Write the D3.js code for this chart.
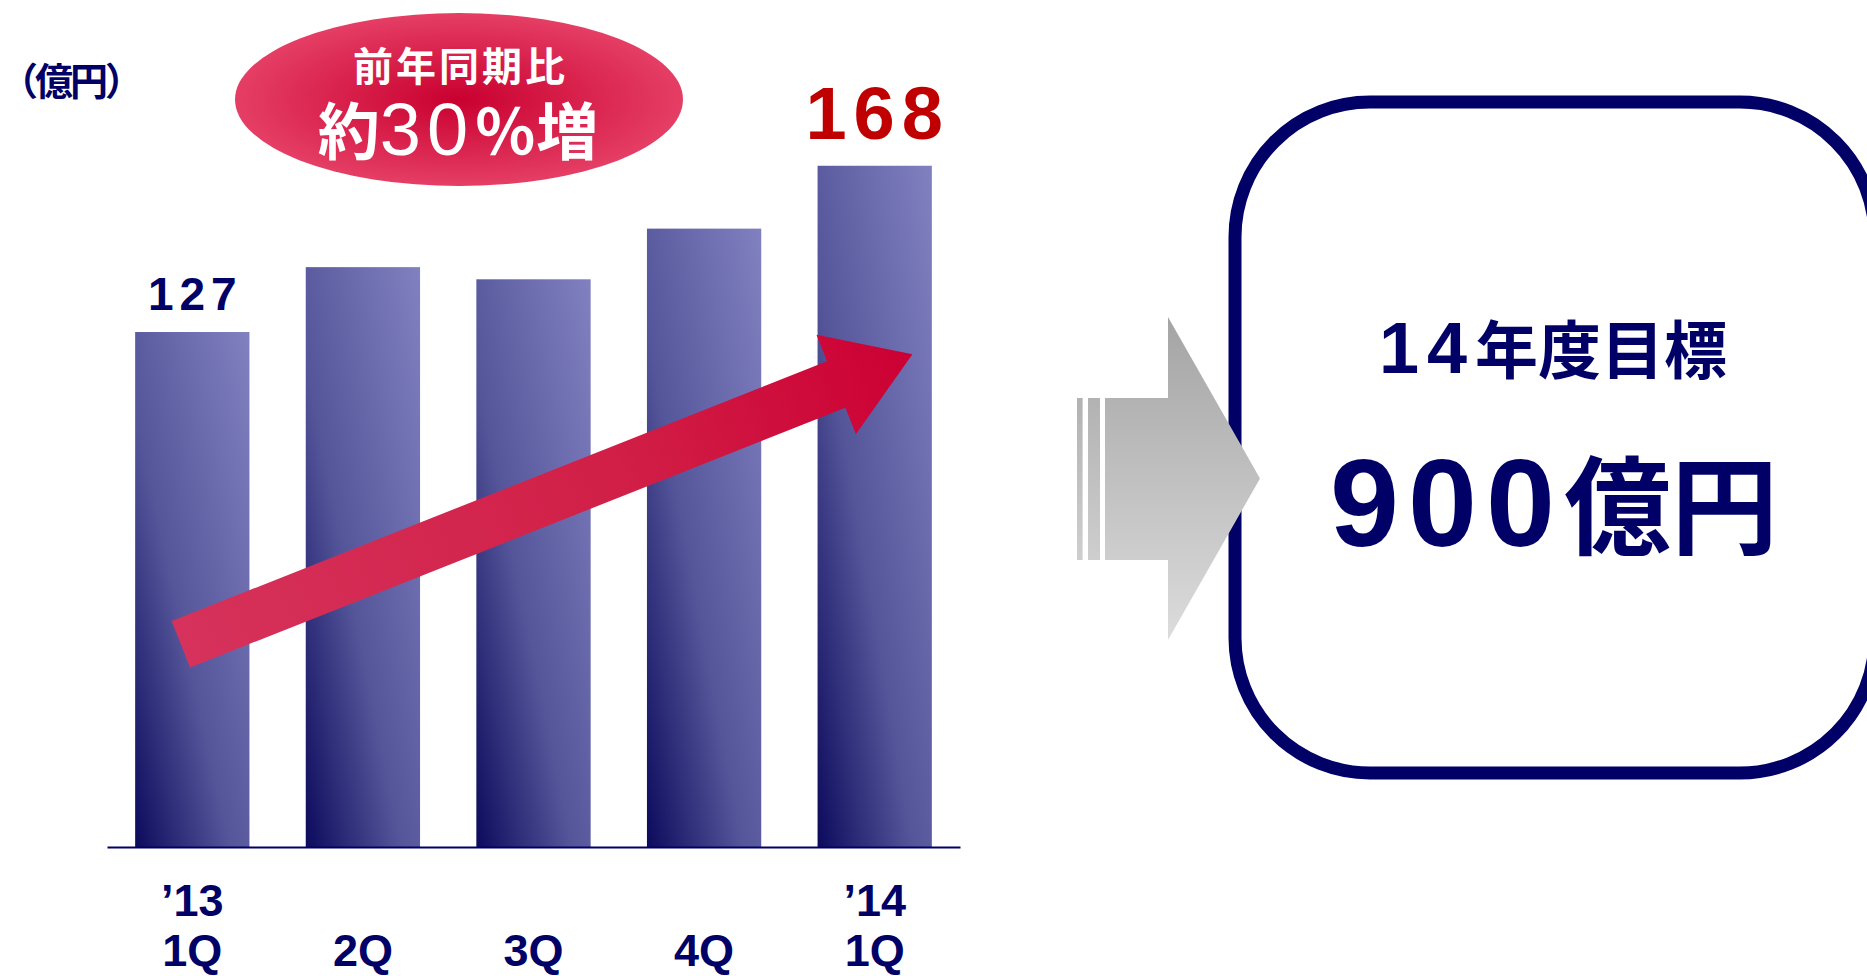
<!DOCTYPE html>
<html>
<head>
<meta charset="utf-8">
<script src="https://cdn.jsdelivr.net/npm/d3@7"></script>
<style>
  html, body { margin: 0; padding: 0; background: #ffffff; overflow: hidden; }
  svg { display: block; }
</style>
</head>
<body>
<svg id="chart" width="1867" height="976"></svg>
<script>
// Quarterly sales (億円), '13 1Q – '14 1Q
const periodKeys   = ["13Q1", "13Q2", "13Q3", "13Q4", "14Q1"];
const quarterTicks = ["1Q", "2Q", "3Q", "4Q", "1Q"];
const yearTicks    = ["’13", "", "", "", "’14"];
const sales        = [127, 143, 140, 152.5, 168];
const valueLabels  = ["127", "", "", "", "168"];

const unitText    = "（億円）";
const badgeTitle  = "前年同期比";
const badgeParts  = ["約", "30", "％", "増"];
const targetTitle = ["14", "年度目標"];
const targetValue = ["900", "億円"];

const NAVY = "#000066";
const LATIN = "'Liberation Sans', Arial, Helvetica, sans-serif";
const CJK = "'Noto Sans CJK JP', 'Noto Sans CJK SC', sans-serif";

const svg = d3.select("#chart");
const defs = svg.append("defs");

// ---- gradients ----
const barGrad = defs.append("linearGradient")
  .attr("id", "barGrad")
  .attr("x1", 0).attr("y1", 1).attr("x2", 1).attr("y2", 0);
barGrad.append("stop").attr("offset", 0).attr("stop-color", "#0c0a5c");
barGrad.append("stop").attr("offset", 0.42).attr("stop-color", "#55569a");
barGrad.append("stop").attr("offset", 1).attr("stop-color", "#8181c1");

const badgeGrad = defs.append("radialGradient")
  .attr("id", "badgeGrad")
  .attr("cx", 0.5).attr("cy", 0.5).attr("r", 0.5);
badgeGrad.append("stop").attr("offset", 0).attr("stop-color", "#c9002f");
badgeGrad.append("stop").attr("offset", 1).attr("stop-color", "#e53e65");

const grayGrad = defs.append("linearGradient")
  .attr("id", "grayGrad")
  .attr("gradientUnits", "userSpaceOnUse")
  .attr("x1", 0).attr("y1", 317).attr("x2", 0).attr("y2", 640);
grayGrad.append("stop").attr("offset", 0).attr("stop-color", "#a4a4a4");
grayGrad.append("stop").attr("offset", 1).attr("stop-color", "#dcdcdc");

// ---- scales ----
const x = d3.scaleBand()
  .domain(periodKeys)
  .range([107, 960])
  .paddingInner(0.33)
  .paddingOuter(0.165);

const y = d3.scaleLinear()
  .domain([0, 200])
  .range([847, 36]);

const bw = x.bandwidth();

// ---- bars ----
svg.append("g").attr("class", "bars")
  .selectAll("rect")
  .data(periodKeys)
  .join("rect")
  .attr("x", d => x(d))
  .attr("y", (d, i) => y(sales[i]))
  .attr("width", bw)
  .attr("height", (d, i) => y(0) - y(sales[i]))
  .attr("fill", "url(#barGrad)");

// ---- x axis ----
const axis = svg.append("g")
  .attr("class", "x-axis")
  .attr("transform", `translate(0,${y(0)})`)
  .call(d3.axisBottom(x).tickSize(0).tickSizeOuter(0).tickFormat(() => ""));
axis.select(".domain").attr("stroke", NAVY).attr("stroke-width", 2);
axis.selectAll(".tick text").remove();
axis.selectAll(".tick").each(function (d, i) {
  const g = d3.select(this);
  const t = g.append("text")
    .attr("text-anchor", "middle")
    .attr("fill", NAVY)
    .style("font-family", LATIN)
    .style("font-weight", 700)
    .style("font-size", "45px");
  if (yearTicks[i]) t.append("tspan").attr("x", 0).attr("y", 69).text(yearTicks[i]);
  t.append("tspan").attr("x", 0).attr("y", 119).text(quarterTicks[i]);
});

// ---- trend arrow across the bars ----
const tail = [x(periodKeys[0]) + bw * 0.4, y(50)];
const tip  = [x(periodKeys[4]) + bw * 0.83, y(121.5)];
(function drawTrendArrow() {
  const dx = tip[0] - tail[0], dy = tip[1] - tail[1];
  const len = Math.hypot(dx, dy);
  const u = [dx / len, dy / len];
  const n = [-u[1], u[0]];
  const headLen = 82, headHalf = 53.5, shaftHalf = 25;
  const base = [tip[0] - u[0] * headLen, tip[1] - u[1] * headLen];
  const p = (c, k) => [c[0] + n[0] * k, c[1] + n[1] * k];
  const pts = [p(tail, shaftHalf), p(base, shaftHalf), p(base, headHalf), tip,
               p(base, -headHalf), p(base, -shaftHalf), p(tail, -shaftHalf)];

  const g = defs.append("linearGradient")
    .attr("id", "trendGrad")
    .attr("gradientUnits", "userSpaceOnUse")
    .attr("x1", tail[0]).attr("y1", tail[1]).attr("x2", tip[0]).attr("y2", tip[1]);
  g.append("stop").attr("offset", 0).attr("stop-color", "#d6325b");
  g.append("stop").attr("offset", 0.6).attr("stop-color", "#d11f47");
  g.append("stop").attr("offset", 1).attr("stop-color", "#cc0033");

  svg.append("path")
    .attr("d", d3.line()(pts) + "Z")
    .attr("fill", "url(#trendGrad)");
})();

// ---- value labels on first and last bar ----
svg.append("g").attr("class", "value-labels")
  .selectAll("text")
  .data(periodKeys.filter((d, i) => valueLabels[i]))
  .join("text")
  .each(function (d) {
    const i = periodKeys.indexOf(d);
    const last = i === periodKeys.length - 1;
    d3.select(this)
      .attr("x", x(d) + bw / 2 + 3)
      .attr("y", y(sales[i]) - (last ? 27 : 22))
      .attr("text-anchor", "middle")
      .attr("fill", last ? "#c00000" : NAVY)
      .style("font-family", LATIN)
      .style("font-weight", 700)
      .style("font-size", last ? "74px" : "46px")
      .style("letter-spacing", last ? "7px" : "6px")
      .text(valueLabels[i]);
  });

// ---- unit ----
svg.append("text")
  .attr("x", 0).attr("y", 78.5)
  .attr("text-anchor", "start")
  .attr("dominant-baseline", "central")
  .attr("fill", NAVY)
  .style("font-family", CJK)
  .style("font-weight", 700)
  .style("font-size", "38px")
  .style("letter-spacing", "-3px")
  .text(unitText);

// ---- growth badge ----
const badge = svg.append("g").attr("class", "badge");
badge.append("ellipse")
  .attr("cx", 459).attr("cy", 99.5).attr("rx", 224).attr("ry", 86.5)
  .attr("fill", "url(#badgeGrad)");
badge.append("text")
  .attr("x", 460.5).attr("y", 64)
  .attr("text-anchor", "middle")
  .attr("dominant-baseline", "central")
  .attr("fill", "#ffffff")
  .style("font-family", CJK)
  .style("font-weight", 700)
  .style("font-size", "40px")
  .style("letter-spacing", "3px")
  .text(badgeTitle);

const growth = badge.append("text")
  .attr("x", 458).attr("y", 155)
  .attr("text-anchor", "middle")
  .attr("fill", "#ffffff");
badgeParts.forEach((s, i) => {
  const latin = i === 1;
  growth.append("tspan")
    .style("font-family", latin ? LATIN : CJK)
    .style("font-weight", latin ? 400 : 700)
    .style("font-size", latin ? "74px" : "62px")
    .style("letter-spacing", latin ? "6px" : "0px")
    .text(s);
});

// ---- target box ----
svg.append("rect")
  .attr("x", 1235).attr("y", 102)
  .attr("width", 640).attr("height", 671)
  .attr("rx", 135).attr("ry", 135)
  .attr("fill", "#ffffff")
  .attr("stroke", NAVY)
  .attr("stroke-width", 13);

const title = svg.append("text")
  .attr("x", 1379).attr("y", 373)
  .attr("fill", NAVY)
  .style("font-weight", 700);
title.append("tspan")
  .style("font-family", LATIN).style("font-size", "72px").style("letter-spacing", "8px")
  .text(targetTitle[0]);
title.append("tspan")
  .style("font-family", CJK).style("font-size", "63px")
  .text(targetTitle[1]);

const goal = svg.append("text")
  .attr("x", 1330).attr("y", 546)
  .attr("fill", NAVY)
  .style("font-weight", 700);
goal.append("tspan")
  .style("font-family", LATIN).style("font-size", "124px").style("letter-spacing", "9px")
  .text(targetValue[0]);
goal.append("tspan")
  .style("font-family", CJK).style("font-size", "107px")
  .text(targetValue[1]);

// ---- grey block arrow pointing to the target ----
const arrowG = svg.append("g").attr("fill", "url(#grayGrad)");
[[1077, 5.6], [1088, 12]].forEach(([sx, sw]) => {
  arrowG.append("rect").attr("x", sx).attr("y", 398).attr("width", sw).attr("height", 162);
});
arrowG.append("path")
  .attr("d", d3.line()([[1105, 398], [1168, 398], [1168, 317], [1260, 478.5],
                        [1168, 640], [1168, 560], [1105, 560]]) + "Z");
</script>
</body>
</html>
